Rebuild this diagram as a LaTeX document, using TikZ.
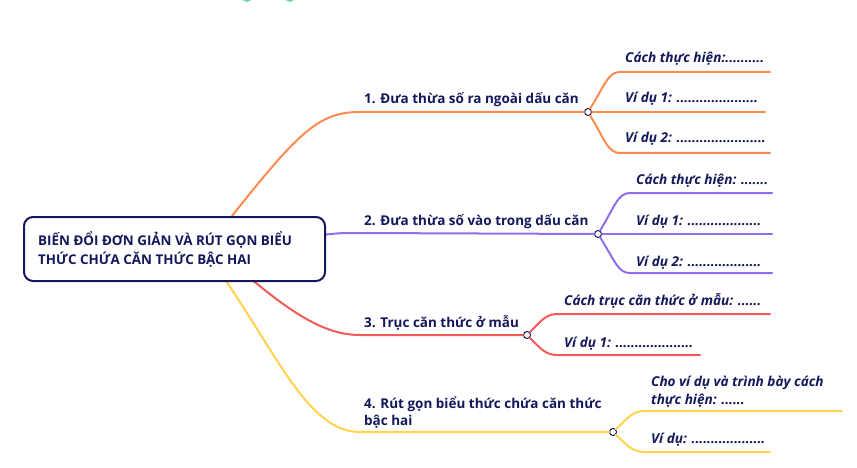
\documentclass[tikz,border=0pt]{standalone}
\usepackage{fontspec}
\setmainfont{Open Sans}
\begin{document}
\begin{tikzpicture}[x=1pt,y=-1pt,
  lbl/.style={anchor=base west,inner sep=0pt,text=navy,font=\fontsize{13.5}{15}\selectfont\bfseries},
  sub/.style={anchor=base west,inner sep=0pt,text=navy,font=\fontsize{13.6}{15}\selectfont\bfseries\itshape},
  dot/.style={circle,draw=navy,fill=white,line width=1pt,inner sep=0pt,minimum size=7pt},
  br/.style={line width=2pt,line cap=round}]
\definecolor{navy}{HTML}{13185A}
\definecolor{c1}{HTML}{FF8A50}
\definecolor{c2}{HTML}{8F6EEB}
\definecolor{c3}{HTML}{F25A5A}
\definecolor{c4}{HTML}{FFD34E}
\definecolor{gr}{HTML}{6FD6A0}
\useasboundingbox (0,0) rectangle (857,468);
\begin{scope}
\clip (0,0) rectangle (857,468);
\fill[gr] (247,-3) circle (5);
\fill[gr] (290,-3) circle (5);
\end{scope}
% branches
\coordinate (b1) at (232,216);
\coordinate (b2) at (322,235);
\coordinate (b3) at (250,278);
\coordinate (b4) at (224,278);
\node[dot] (d1) at (588,112) {};
\node[dot] (d2) at (598,234) {};
\node[dot] (d3) at (527,335) {};
\node[dot] (d4) at (613,432) {};
\draw[br,c1] (b1) .. controls (300,130) and (320,112) .. (360,112) -- (d1);
\draw[br,c2] (b2) .. controls (340,233) .. (360,233) -- (d2);
\draw[br,c3] (b3) .. controls (300,320) and (330,335) .. (360,335) -- (d3);
\draw[br,c4] (b4) .. controls (280,360) and (310,432) .. (360,432) -- (d4);
% sub 1
\coordinate (e11) at (770,72); \coordinate (e12) at (765,112); \coordinate (e13) at (770,153);
\draw[br,c1] (d1) .. controls (605,85) and (608,72) .. (620,72) -- (e11);
\draw[br,c1] (d1) -- (e12);
\draw[br,c1] (d1) .. controls (605,140) and (608,153) .. (620,153) -- (e13);
% sub 2
\coordinate (e21) at (772,193); \coordinate (e22) at (772,234); \coordinate (e23) at (772,273);
\draw[br,c2] (d2) .. controls (615,206) and (618,193) .. (630,193) -- (e21);
\draw[br,c2] (d2) -- (e22);
\draw[br,c2] (d2) .. controls (615,261) and (618,273) .. (630,273) -- (e23);
% sub 3
\coordinate (e31) at (770,314); \coordinate (e32) at (700,355);
\draw[br,c3] (d3) .. controls (542,320) and (546,314) .. (558,314) -- (e31);
\draw[br,c3] (d3) .. controls (542,350) and (546,355) .. (558,355) -- (e32);
% sub 4
\coordinate (e41) at (842,411); \coordinate (e42) at (770,452);
\draw[br,c4] (d4) .. controls (628,418) and (632,411) .. (645,411) -- (e41);
\draw[br,c4] (d4) .. controls (628,446) and (632,452) .. (645,452) -- (e42);
% root
\node[draw=navy,line width=2pt,rounded corners=9pt,fill=white,minimum width=301pt,minimum height=64pt,anchor=north west] (root) at (23,216) {};
\node[lbl,font=\fontsize{13.4}{17}\selectfont\bfseries] (rt1) at (38,245) {BIẾN ĐỔI ĐƠN GIẢN VÀ RÚT GỌN BIỂU};
\node[lbl,font=\fontsize{13.4}{17}\selectfont\bfseries] (rt2) at (38,264) {THỨC CHỨA CĂN THỨC BẬC HAI};
% labels
\node[lbl] (l1) at (364,104) {1. Đưa thừa số ra ngoài dấu căn};
\node[lbl] (l2) at (364,225) {2. Đưa thừa số vào trong dấu căn};
\node[lbl] (l3) at (364,327) {3. Trục căn thức ở mẫu};
\node[lbl] (l4a) at (364,408) {4. Rút gọn biểu thức chứa căn thức};
\node[lbl] (l4b) at (364,425) {bậc hai};
\node[sub] (s11) at (625,63) {Cách thực hiện:..........};
\node[sub] (s12) at (625,103) {Ví dụ 1: .....................};
\node[sub] (s13) at (625,143) {Ví dụ 2: .......................};
\node[sub] (s21) at (636,185) {Cách thực hiện: .......};
\node[sub] (s22) at (636,225) {Ví dụ 1: ...................};
\node[sub] (s23) at (636,266) {Ví dụ 2: ...................};
\node[sub] (s31) at (564,305) {Cách trục căn thức ở mẫu: ......};
\node[sub] (s32) at (564,347) {Ví dụ 1: ....................};
\node[sub] (s41) at (651,386) {Cho ví dụ và trình bày cách};
\node[sub] (s42) at (651,404) {thực hiện: ......};
\node[sub] (s43) at (651,443) {Ví dụ: ...................};
\end{tikzpicture}
\end{document}
